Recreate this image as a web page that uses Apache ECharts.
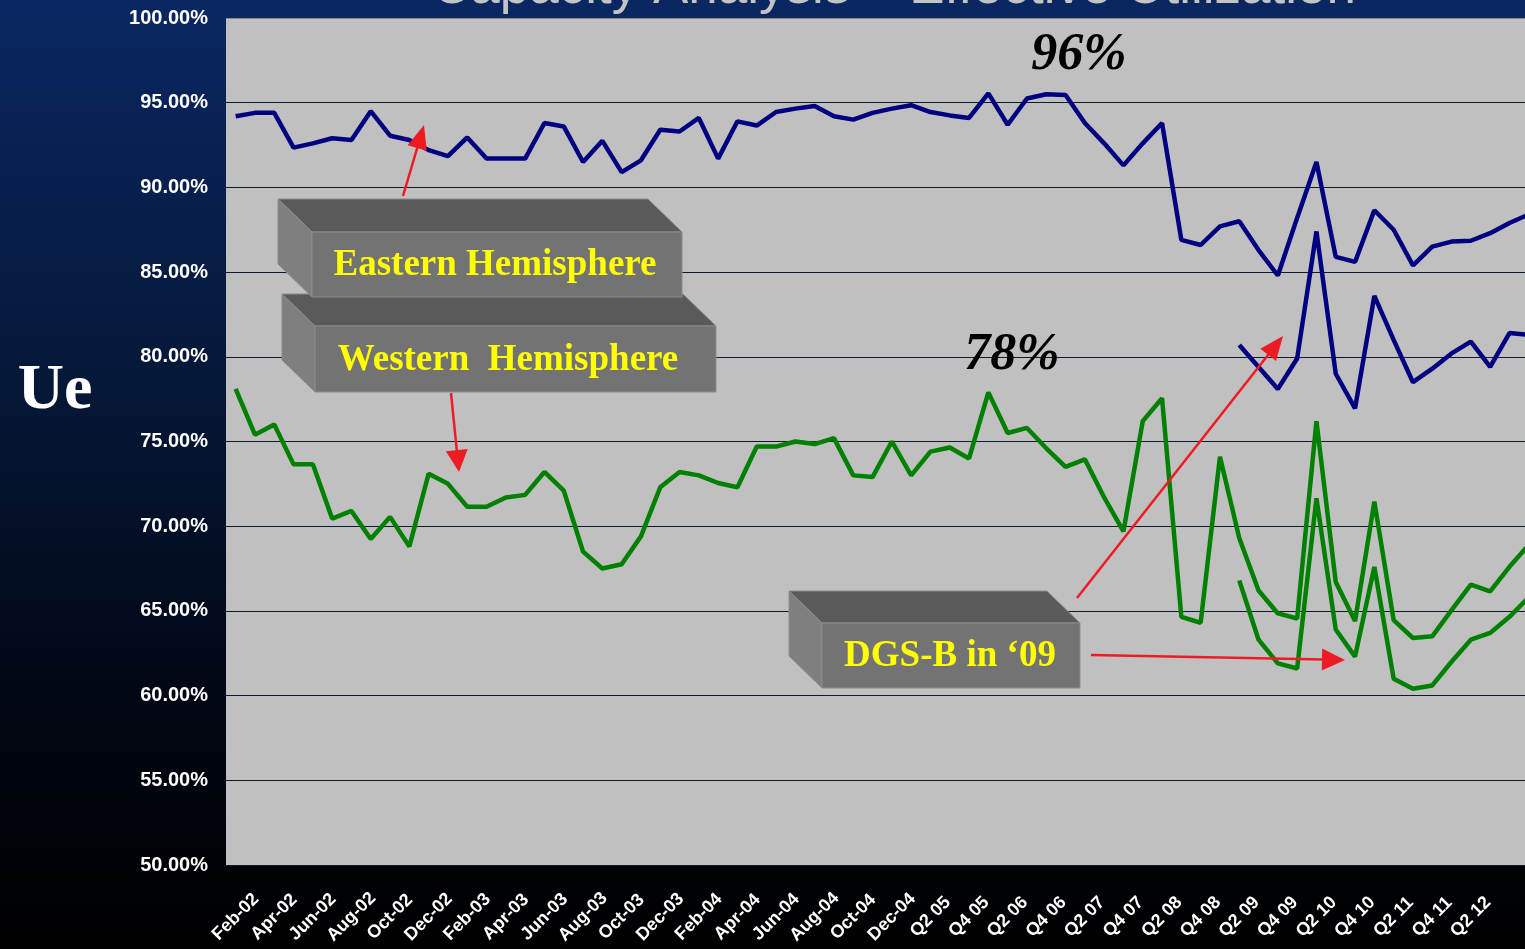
<!DOCTYPE html>
<html>
<head>
<meta charset="utf-8">
<script src="https://cdn.jsdelivr.net/npm/echarts@6/dist/echarts.min.js"></script>
<style>
html,body{margin:0;padding:0;background:#000;}
#chart{width:1525px;height:949px;}
</style>
</head>
<body>
<div id="chart"></div>
<script>
// ---- data ----
const categories = ['Feb-02','Mar-02','Apr-02','May-02','Jun-02','Jul-02','Aug-02','Sep-02','Oct-02','Nov-02','Dec-02',
  'Jan-03','Feb-03','Mar-03','Apr-03','May-03','Jun-03','Jul-03','Aug-03','Sep-03','Oct-03','Nov-03','Dec-03',
  'Jan-04','Feb-04','Mar-04','Apr-04','May-04','Jun-04','Jul-04','Aug-04','Sep-04','Oct-04','Nov-04','Dec-04',
  'Q1 05','Q2 05','Q3 05','Q4 05','Q1 06','Q2 06','Q3 06','Q4 06','Q1 07','Q2 07','Q3 07','Q4 07',
  'Q1 08','Q2 08','Q3 08','Q4 08','Q1 09','Q2 09','Q3 09','Q4 09','Q1 10','Q2 10','Q3 10','Q4 10',
  'Q1 11','Q2 11','Q3 11','Q4 11','Q1 12','Q2 12','Q3 12','Q4 12','Q1 13'];

// last category that carries a visible tick label in the picture
const lastLabelled = 'Q2 12';

const easternHemisphere = [94.2,94.4,94.4,92.35,92.6,92.9,92.8,94.5,93.05,92.8,92.2,91.85,92.95,91.7,91.7,91.7,93.8,93.6,91.5,92.75,
  90.9,91.6,93.4,93.3,94.1,91.7,93.9,93.65,94.45,94.65,94.8,94.2,94.0,94.4,94.65,94.85,94.45,94.25,94.1,95.55,
  93.7,95.25,95.5,95.45,93.8,92.6,91.3,92.6,93.8,86.9,86.6,87.7,88.0,86.3,84.8,88.2,91.5,85.9,85.6,88.65,
  87.5,85.4,86.5,86.8,86.85,87.3,87.9,88.4];

const westernHemisphere = [78.1,75.4,76.0,73.65,73.65,70.45,70.9,69.25,70.55,68.8,73.1,72.5,71.15,71.15,71.7,71.85,73.2,72.1,68.5,67.5,
  67.75,69.4,72.3,73.2,73.0,72.55,72.3,74.7,74.7,75.0,74.85,75.2,73.0,72.9,75.0,73.0,74.4,74.65,74.0,77.9,
  75.5,75.8,74.6,73.5,73.95,71.7,69.7,76.2,77.55,64.65,64.3,74.1,69.3,66.2,64.85,64.55,76.2,66.7,64.4,71.45,
  64.45,63.4,63.5,65.05,66.55,66.15,67.6,68.9];

// DGS-B series begin at this category
const dgsStart = 'Q2 09';
const dgsEastern = [80.7,79.4,78.1,79.9,87.4,79.0,76.95,83.6,81.0,78.5,79.3,80.2,80.9,79.4,81.4,81.3];
const dgsWestern = [66.8,63.3,61.9,61.6,71.65,63.9,62.3,67.6,61.0,60.4,60.6,62.0,63.3,63.7,64.65,65.8];

const yTicks = {min: 50, max: 100, step: 5};

// ---- build ----
function pad(arr, startCat) {
  const idx = categories.indexOf(startCat);
  const out = new Array(categories.length).fill(null);
  arr.forEach((v, i) => { out[idx + i] = v; });
  return out;
}
const lastLabelIdx = categories.indexOf(lastLabelled);

const NAVY = '#000080', GREEN = '#008000', RED = '#ed1c24';
const catW = 19.3;

function arrow(x1, y1, x2, y2, len, half) {
  const dx = x2 - x1, dy = y2 - y1, L = Math.hypot(dx, dy);
  const ux = dx / L, uy = dy / L, nx = -uy, ny = ux;
  const bx = x2 - ux * len, by = y2 - uy * len;
  return [
    {type: 'line', z: 100, shape: {x1: x1, y1: y1, x2: bx + ux * 2, y2: by + uy * 2}, style: {stroke: RED, lineWidth: 2.5}},
    {type: 'polygon', z: 100, shape: {points: [[x2, y2], [bx + nx * half, by + ny * half], [bx - nx * half, by - ny * half]]}, style: {fill: RED}}
  ];
}

function box(x, y, w, h, d, text, tx, fontSize) {
  const edge = '#8c8c8c';
  return [
    {type: 'polygon', z: 90, shape: {points: [[x, y], [x + w, y], [x + w - d, y - d + 1], [x - d, y - d + 1]]}, style: {fill: '#5a5a5a', stroke: edge, lineWidth: 1}},
    {type: 'polygon', z: 90, shape: {points: [[x - d, y - d + 1], [x, y], [x, y + h], [x - d, y + h - d + 1]]}, style: {fill: '#7f7f7f', stroke: edge, lineWidth: 1}},
    {type: 'rect', z: 90, shape: {x: x, y: y, width: w, height: h}, style: {fill: '#737373', stroke: edge, lineWidth: 1}},
    {type: 'text', z: 91, x: tx, y: y + h / 2 + 1, style: {text: text, fill: '#ffff00', font: 'bold ' + fontSize + 'px "Liberation Serif", "Times New Roman", serif', align: 'center', verticalAlign: 'middle', textShadowColor: '#000', textShadowOffsetX: 2, textShadowOffsetY: 2, textShadowBlur: 0}}
  ];
}

const splitColors = [];
for (let v = yTicks.min; v <= yTicks.max; v += yTicks.step) splitColors.push(v === yTicks.max ? '#8a8a8a' : '#0e1a30');

const graphics = [].concat(
  [{type: 'text', z: 50, x: 894, y: -12, style: {text: 'Capacity Analysis \u2013 Effective Utilization', fill: '#c4c4c4', font: '53px "Liberation Sans", Arial, sans-serif', align: 'center', verticalAlign: 'middle'}}],
  [{type: 'text', z: 50, x: 55, y: 391, style: {text: 'Ue', fill: '#ffffff', font: 'bold 64px "Liberation Serif", "Times New Roman", serif', align: 'center', verticalAlign: 'middle'}}],
  [{type: 'text', z: 50, x: 1079, y: 56, style: {text: '96%', fill: '#000', font: 'italic bold 52px "Liberation Serif", "Times New Roman", serif', align: 'center', verticalAlign: 'middle'}}],
  [{type: 'text', z: 50, x: 1012, y: 356, style: {text: '78%', fill: '#000', font: 'italic bold 52px "Liberation Serif", "Times New Roman", serif', align: 'center', verticalAlign: 'middle'}}],
  box(315, 326, 401, 66, 33, 'Western  Hemisphere', 508, 37),
  box(312, 232, 370, 65, 34, 'Eastern Hemisphere', 495, 37),
  box(822, 623, 258, 65, 33, 'DGS-B in \u201809', 950, 37),
  arrow(403, 196, 424, 125, 24, 10),
  arrow(451, 393, 459, 472, 22, 11),
  arrow(1077, 598, 1283, 336, 24, 10),
  arrow(1091, 655, 1345, 660, 23, 11)
);

const chart = echarts.init(document.getElementById('chart'));
chart.setOption({
  animation: false,
  backgroundColor: {type: 'linear', x: 0, y: 0, x2: 0, y2: 1, colorStops: [
    {offset: 0, color: '#0a2762'}, {offset: 0.4, color: '#051838'}, {offset: 0.75, color: '#010612'}, {offset: 1, color: '#000000'}]},
  grid: {left: 226, top: 18, width: categories.length * catW, height: 847, show: true, backgroundColor: '#c0c0c0', borderWidth: 0,
    outerBoundsMode: 'none', containLabel: false},
  xAxis: {
    type: 'category', data: categories, boundaryGap: true,
    axisLine: {show: false}, axisTick: {show: false},
    axisLabel: {interval: (i) => i % 2 === 0 && i <= lastLabelIdx, rotate: 45, align: 'center', verticalAlign: 'middle', margin: 52,
      color: '#fff', fontWeight: 'bold', fontSize: 18, fontFamily: '"Liberation Sans", Arial, sans-serif'}
  },
  yAxis: {
    type: 'value', min: yTicks.min, max: yTicks.max, interval: yTicks.step,
    axisLine: {show: false}, axisTick: {show: false},
    axisLabel: {formatter: v => v.toFixed(2) + '%', color: '#fff', fontWeight: 'bold', fontSize: 20, margin: 18,
      fontFamily: '"Liberation Sans", Arial, sans-serif'},
    splitLine: {show: true, lineStyle: {color: splitColors, width: 1}}
  },
  series: [
    {name: 'Eastern Hemisphere', type: 'line', data: easternHemisphere, symbol: 'none', lineStyle: {color: NAVY, width: 4.5}, itemStyle: {color: NAVY}},
    {name: 'Western Hemisphere', type: 'line', data: westernHemisphere, symbol: 'none', lineStyle: {color: GREEN, width: 4.5}, itemStyle: {color: GREEN}},
    {name: 'DGS-B Eastern', type: 'line', data: pad(dgsEastern, dgsStart), symbol: 'none', lineStyle: {color: NAVY, width: 4.5}, itemStyle: {color: NAVY}},
    {name: 'DGS-B Western', type: 'line', data: pad(dgsWestern, dgsStart), symbol: 'none', lineStyle: {color: GREEN, width: 4.5}, itemStyle: {color: GREEN}}
  ],
  graphic: graphics
});
</script>
</body>
</html>
